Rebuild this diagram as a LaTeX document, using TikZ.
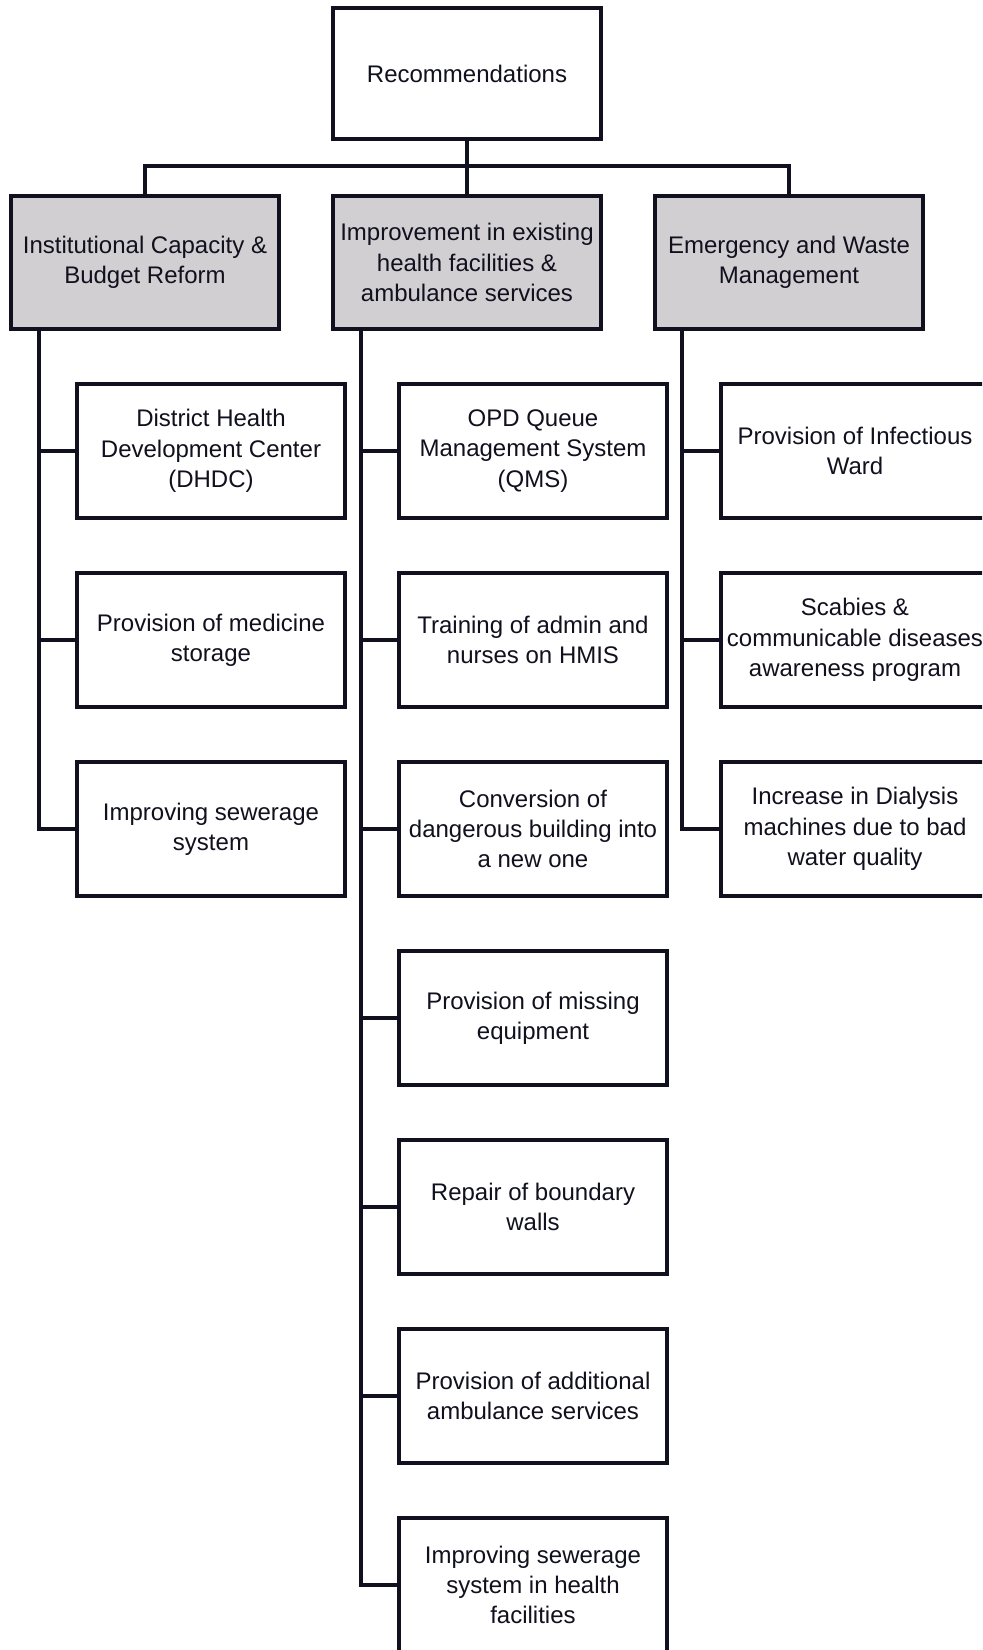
\documentclass[tikz,border=0pt]{standalone}
\usepackage{fontspec}
\setmainfont{Liberation Sans}
\begin{document}
\begin{tikzpicture}[x=0.5pt,y=-0.5pt,
  ln/.style={draw=linecol,line width=2.3pt},
  box/.style={ln,rectangle,minimum width=134pt,minimum height=67pt,align=center,
    text=linecol,font=\fontsize{12}{15.2}\selectfont,inner sep=0pt},
  headbox/.style={box,fill=headgray,minimum height=66.5pt},
  conn/.style={draw=linecol,line width=2.3pt,line join=miter}]
\definecolor{linecol}{HTML}{10101E}
\definecolor{headgray}{HTML}{D1CFD1}
\clip (0,0) rectangle (982,1650);
\fill[white] (0,0) rectangle (982,1650);
% root
\node[box,minimum height=65.5pt] (rec) at (467,73.5) {Recommendations};
% level 1
\node[headbox] (h1) at (145,262.5) {Institutional Capacity \&\\Budget Reform};
\node[headbox] (h2) at (467,262.5) {Improvement in existing\\health facilities \&\\ambulance services};
\node[headbox] (h3) at (789,262.5) {Emergency and Waste\\Management};
\coordinate (bus) at (467,166);
\draw[conn] (rec.south) -- (bus);
\draw[conn] (h1.north) |- (bus) -| (h3.north);
\draw[conn] (bus) -- (h2.north);
% trunks
\coordinate (t1) at (39,0);
\coordinate (t2) at (361,0);
\coordinate (t3) at (682,0);
% column 1
\node[box] (a1) at (211,451) {District Health\\Development Center\\(DHDC)};
\node[box] (a2) at (211,640) {Provision of medicine\\storage};
\node[box] (a3) at (211,829) {Improving sewerage\\system};
% column 2
\node[box] (b1) at (533,451) {OPD Queue\\Management System\\(QMS)};
\node[box] (b2) at (533,640) {Training of admin and\\nurses on HMIS};
\node[box] (b3) at (533,829) {Conversion of\\dangerous building into\\a new one};
\node[box] (b4) at (533,1018) {Provision of missing\\equipment};
\node[box] (b5) at (533,1207) {Repair of boundary\\walls};
\node[box] (b6) at (533,1396) {Provision of additional\\ambulance services};
\node[box] (b7) at (533,1585) {Improving sewerage\\system in health\\facilities};
% column 3
\node[box] (c1) at (855,451) {Provision of Infectious\\Ward};
\node[box] (c2) at (855,640) {Scabies \&\\communicable diseases\\awareness program};
\node[box] (c3) at (855,829) {Increase in Dialysis\\machines due to bad\\water quality};
% connectors column 1
\draw[conn] (h1.south -| t1) |- (a3.west);
\draw[conn] (a1.west) -- (a1.west -| t1);
\draw[conn] (a2.west) -- (a2.west -| t1);
% connectors column 2
\draw[conn] (h2.south -| t2) |- (b7.west);
\foreach \n in {b1,b2,b3,b4,b5,b6}{
  \draw[conn] (\n.west) -- (\n.west -| t2);
}
% connectors column 3
\draw[conn] (h3.south -| t3) |- (c3.west);
\draw[conn] (c1.west) -- (c1.west -| t3);
\draw[conn] (c2.west) -- (c2.west -| t3);
\end{tikzpicture}
\end{document}
